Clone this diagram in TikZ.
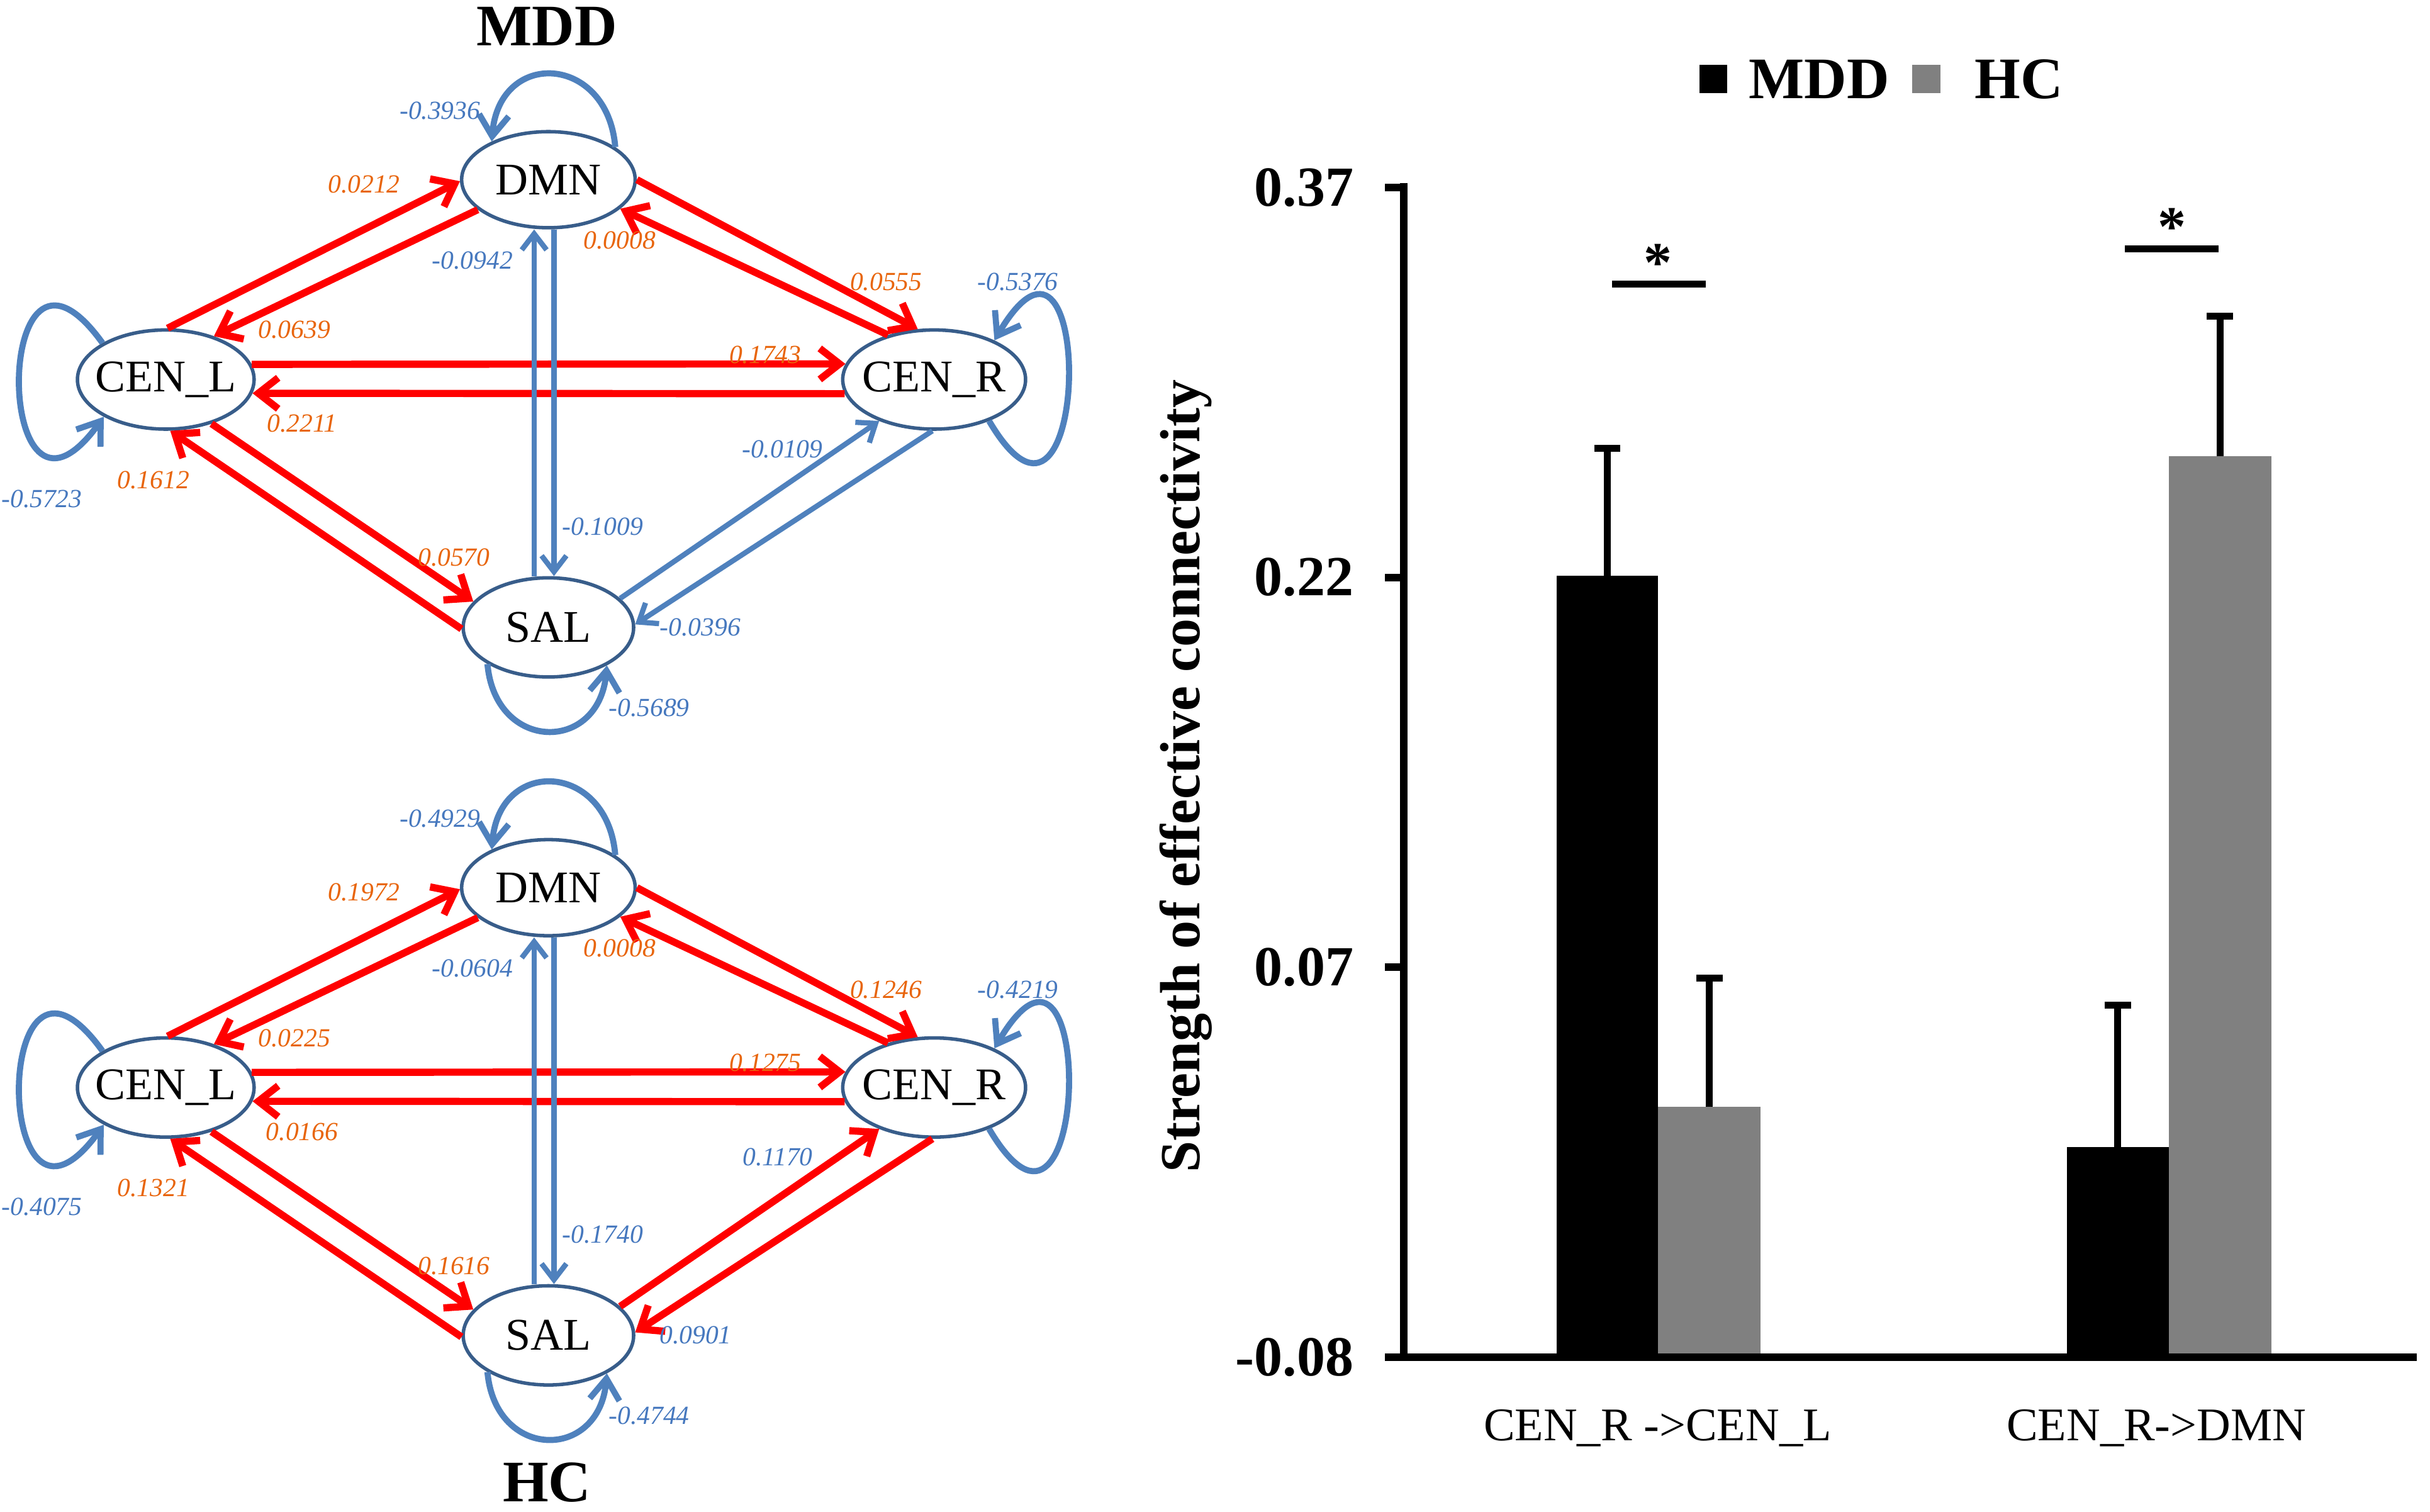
\documentclass[tikz,border=0pt]{standalone}
\usepackage{fontspec}
\setmainfont{Liberation Serif}
\usetikzlibrary{arrows.meta,shapes.geometric}

\definecolor{edgered}{RGB}{255,0,0}
\definecolor{edgeblue}{RGB}{79,129,189}
\definecolor{ringblue}{RGB}{56,93,138}
\definecolor{numorange}{RGB}{232,101,12}
\definecolor{numblue}{RGB}{70,120,190}
\definecolor{hcgray}{RGB}{128,128,128}

\begin{document}
\begin{tikzpicture}[x=0.025cm, y=0.025cm,
    region/.style={ellipse, draw=ringblue, line width=1.6pt, fill=white, inner sep=0pt},
    nodetext/.style={font=\fontsize{20.8pt}{24pt}\selectfont, inner sep=0pt},
    redarc/.style={draw=edgered, line width=3.3pt, -{Straight Barb[length=0.32cm, width=0.5cm]}},
    bluearc/.style={draw=edgeblue, line width=2.4pt, -{Straight Barb[length=0.26cm, width=0.4cm]}},
    selfarc/.style={draw=edgeblue, line width=2.8pt, -{Straight Barb[length=0.34cm, width=0.48cm]}},
    wred/.style={text=numorange, font=\fontsize{12pt}{14pt}\selectfont\itshape, inner sep=0pt},
    wblue/.style={wred, text=numblue},
    paneltitle/.style={font=\fontsize{27pt}{30pt}\selectfont\bfseries, inner sep=0pt},
    ticklab/.style={anchor=east, font=\fontsize{26pt}{30pt}\selectfont\bfseries, inner sep=0pt},
    barlab/.style={anchor=base, font=\fontsize{21.5pt}{25pt}\selectfont, inner sep=0pt},
    axisline/.style={line width=3.5pt},
    errline/.style={line width=3.2pt}]
\useasboundingbox (0,0) rectangle (1568.6,976);

% ---- MDD network ----
\node[paneltitle] (mdd-title) at (353,959) {MDD};
\node[region, minimum width=2.8cm, minimum height=1.55cm, label={[nodetext]center:DMN}] (m-dmn) at (354,860) {};
\node[region, minimum width=2.85cm, minimum height=1.6cm, label={[nodetext]center:CEN\_L}] (m-cenl) at (107,731) {};
\node[region, minimum width=2.95cm, minimum height=1.6cm, label={[nodetext]center:CEN\_R}] (m-cenr) at (603,731) {};
\node[region, minimum width=2.75cm, minimum height=1.6cm, label={[nodetext]center:SAL}] (m-sal) at (354,571) {};

\draw[redarc] (m-cenl.88) -- (m-dmn.181);
\draw[redarc] (m-dmn.203) -- (m-cenl.42);
\draw[redarc] (m-dmn.0) -- (m-cenr.108);
\draw[redarc] (m-cenr.136) -- (m-dmn.338);
\draw[redarc] (m-cenl.10) -- (m-cenr.170);
\draw[redarc] (m-cenr.189) -- (m-cenl.351);
\draw[redarc] (m-sal.181) -- (m-cenl.275);
\draw[redarc] (m-cenl.316) -- (m-sal.161);
\draw[bluearc] (m-sal.22) -- (m-cenr.217);
\draw[bluearc] (m-cenr.268) -- (m-sal.2);
\draw[bluearc] ([xshift=-2.3mm]m-sal.north) -- ([xshift=-2.3mm]m-dmn.south);
\draw[bluearc] ([xshift=0.9mm]m-dmn.south) -- ([xshift=0.9mm]m-sal.north);
% self connections
\draw[selfarc] (m-dmn.26) .. controls +(-5,60) and +(5,60) .. (m-dmn.146);
\draw[selfarc] (m-cenl.150) .. controls +(-72,100) and +(-72,-100) .. (m-cenl.211);
\draw[selfarc] (m-cenr.323) .. controls +(66,-112) and +(66,112) .. (m-cenr.33);
\draw[selfarc] (m-sal.211) .. controls +(5,-57) and +(-5,-57) .. (m-sal.327);

\node[wblue] (m-dmn-self) at (284,904.5) {-0.3936};
\node[wred] (m-cenl-dmn) at (235,857) {0.0212};
\node[wblue] (m-sal-dmn) at (305,808) {-0.0942};
\node[wred] (m-cenr-dmn) at (400,821) {0.0008};
\node[wred] (m-dmn-cenr) at (572,794) {0.0555};
\node[wblue] (m-cenr-self) at (657,794) {-0.5376};
\node[wred] (m-dmn-cenl) at (190,763) {0.0639};
\node[wred] (m-cenl-cenr) at (494,747) {0.1743};
\node[wred] (m-cenr-cenl) at (195,702.5) {0.2211};
\node[wblue] (m-sal-cenr) at (505,686) {-0.0109};
\node[wred] (m-sal-cenl) at (99,666) {0.1612};
\node[wblue] (m-cenl-self) at (27,654) {-0.5723};
\node[wblue] (m-dmn-sal) at (389,636) {-0.1009};
\node[wred] (m-cenl-sal) at (293,616) {0.0570};
\node[wblue] (m-cenr-sal) at (452,571) {-0.0396};
\node[wblue] (m-sal-self) at (419,519) {-0.5689};

% ---- HC network ----
\begin{scope}[shift={(0,-457)}]
\node[region, minimum width=2.8cm, minimum height=1.55cm, label={[nodetext]center:DMN}] (h-dmn) at (354,860) {};
\node[region, minimum width=2.85cm, minimum height=1.6cm, label={[nodetext]center:CEN\_L}] (h-cenl) at (107,731) {};
\node[region, minimum width=2.95cm, minimum height=1.6cm, label={[nodetext]center:CEN\_R}] (h-cenr) at (603,731) {};
\node[region, minimum width=2.75cm, minimum height=1.6cm, label={[nodetext]center:SAL}] (h-sal) at (354,571) {};

\draw[redarc] (h-cenl.88) -- (h-dmn.181);
\draw[redarc] (h-dmn.203) -- (h-cenl.42);
\draw[redarc] (h-dmn.0) -- (h-cenr.108);
\draw[redarc] (h-cenr.136) -- (h-dmn.338);
\draw[redarc] (h-cenl.10) -- (h-cenr.170);
\draw[redarc] (h-cenr.189) -- (h-cenl.351);
\draw[redarc] (h-sal.181) -- (h-cenl.275);
\draw[redarc] (h-cenl.316) -- (h-sal.161);
\draw[redarc] (h-sal.22) -- (h-cenr.217);
\draw[redarc] (h-cenr.268) -- (h-sal.2);
\draw[bluearc] ([xshift=-2.3mm]h-sal.north) -- ([xshift=-2.3mm]h-dmn.south);
\draw[bluearc] ([xshift=0.9mm]h-dmn.south) -- ([xshift=0.9mm]h-sal.north);
% self connections
\draw[selfarc] (h-dmn.26) .. controls +(-5,60) and +(5,60) .. (h-dmn.146);
\draw[selfarc] (h-cenl.150) .. controls +(-72,100) and +(-72,-100) .. (h-cenl.211);
\draw[selfarc] (h-cenr.323) .. controls +(66,-112) and +(66,112) .. (h-cenr.33);
\draw[selfarc] (h-sal.211) .. controls +(5,-57) and +(-5,-57) .. (h-sal.327);

\node[wblue] (h-dmn-self) at (284,904.5) {-0.4929};
\node[wred] (h-cenl-dmn) at (235,857) {0.1972};
\node[wblue] (h-sal-dmn) at (305,808) {-0.0604};
\node[wred] (h-cenr-dmn) at (400,821) {0.0008};
\node[wred] (h-dmn-cenr) at (572,794) {0.1246};
\node[wblue] (h-cenr-self) at (657,794) {-0.4219};
\node[wred] (h-dmn-cenl) at (190,763) {0.0225};
\node[wred] (h-cenl-cenr) at (494,747) {0.1275};
\node[wred] (h-cenr-cenl) at (195,702.5) {0.0166};
\node[wblue] (h-sal-cenr) at (502,686) {0.1170};
\node[wred] (h-sal-cenl) at (99,666) {0.1321};
\node[wblue] (h-cenl-self) at (27,654) {-0.4075};
\node[wblue] (h-dmn-sal) at (389,636) {-0.1740};
\node[wred] (h-cenl-sal) at (293,616) {0.1616};
\node[wblue] (h-cenr-sal) at (449,571) {0.0901};
\node[wblue] (h-sal-self) at (419,519) {-0.4744};
\end{scope}
\node[paneltitle] (hc-title) at (353,19) {HC};

% ---- bar chart ----
\fill[black] (1097,916) rectangle (1115,934);
\node[paneltitle, anchor=west] (leg-mdd) at (1128.6,925) {MDD};
\fill[hcgray] (1234.5,916) rectangle (1252.5,934);
\node[paneltitle, anchor=west] (leg-hc) at (1274.4,925) {HC};

\foreach \xl/\xr/\top/\err/\col in {1004.7/1070.4/604.5/686.7/black, 1070.4/1136.6/261.7/344.5/hcgray,
                                     1334.2/1399.9/235.6/327/black, 1399.9/1466.1/681.7/772/hcgray}
{
    \fill[\col] (\xl,100) rectangle (\xr,\top);
    \draw[errline] ({(\xl+\xr)/2},\top) -- ({(\xl+\xr)/2},\err);
    \draw[errline] ({(\xl+\xr)/2-8.5},\err) -- ({(\xl+\xr)/2+8.5},\err);
}

\draw[axisline] (906,858) -- (906,100) -- (1560,100);
\foreach \y/\v [count=\i] in {100/-0.08, 351.7/0.07, 603.3/0.22, 855/0.37}
{
    \draw[axisline] (894,\y) -- (906,\y);
    \node[ticklab] (tick\i) at (874,\y) {\v};
}
\node[font=\fontsize{26pt}{30pt}\selectfont\bfseries, rotate=90, inner sep=0pt] (ylab) at (765.5,475) {Strength of effective connectivity};

\draw[errline] (1040.5,792.5) -- (1100.9,792.5);
\node[font=\fontsize{26pt}{30pt}\selectfont\bfseries, inner sep=0pt] (sig1) at (1070.4,806.5) {*};
\draw[errline] (1371.6,815.5) -- (1432,815.5);
\node[font=\fontsize{26pt}{30pt}\selectfont\bfseries, inner sep=0pt] (sig2) at (1402,829.5) {*};

\node[barlab] (pair1) at (1070,46) {CEN\_R ->CEN\_L};
\node[barlab] (pair2) at (1392,46) {CEN\_R->DMN};
\end{tikzpicture}
\end{document}
